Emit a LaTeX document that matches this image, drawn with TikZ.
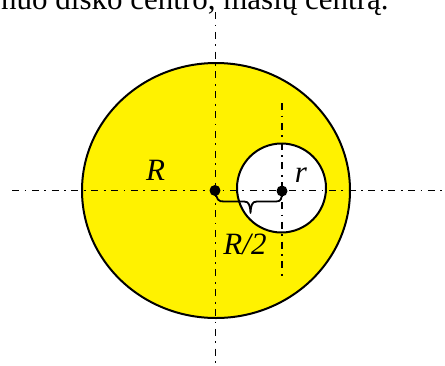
\documentclass[tikz,border=0pt]{standalone}
\usepackage{fontspec}
\setmainfont{Liberation Serif}
\begin{document}
\begin{tikzpicture}[x=1pt,y=-1pt,
  axisline/.style={line width=1.9pt,dash pattern=on 7pt off 5.5pt on 1.8pt off 5.5pt},
  outline/.style={line width=2pt},
  centerdot/.style={circle,fill=black,inner sep=0pt,minimum size=11pt},
  lbl/.style={font=\fontsize{31}{36}\selectfont\itshape,inner sep=0pt}]
\useasboundingbox (0,0) rectangle (445,365);
\node[anchor=base west,inner sep=0pt,font=\fontsize{31}{36}\selectfont] (cap) at (1,9.5) {nuo disko centro, masių centrą.};
% big disc
\fill[yellow] (216,190.5) ellipse [x radius=134, y radius=127.5];
\draw[outline] (216,190.5) ellipse [x radius=134, y radius=127.5];
% hole
\fill[white] (281.5,188) circle [radius=44.5];
\draw[outline] (281.5,188) circle [radius=44.5];
% axes
\coordinate (vt) at (215.5,12);
\coordinate (vb) at (215.5,365);
\coordinate (hl) at (12,190.5);
\coordinate (hr) at (445,190.5);
\coordinate (st) at (282,103);
\coordinate (sb) at (282,279);
\draw[axisline] (vt) -- (vb);
\draw[axisline] (hl) -- (hr);
\draw[axisline] (st) -- (sb);
% centre dots
\node[centerdot] (O) at (215,190.5) {};
\node[centerdot] (C) at (282,191) {};
% brace
\draw[line width=1.8pt,line join=round] (O.center) .. controls (217,200) and (218,201.5) .. (224,201.5)
  -- (244,201.5) .. controls (249,201.5) and (250,205) .. (250.5,213)
  .. controls (251,205) and (252,201.5) .. (257,201.5)
  -- (276,201.5) .. controls (281,201.5) and (282,199) .. (C.center);
% labels
\node[lbl] (lR) at (155.5,170.5) {R};
\node[lbl] (lr) at (301,175.5) {r};
\node[lbl,anchor=base] (lR2) at (245,254) {R/2};
\end{tikzpicture}
\end{document}
